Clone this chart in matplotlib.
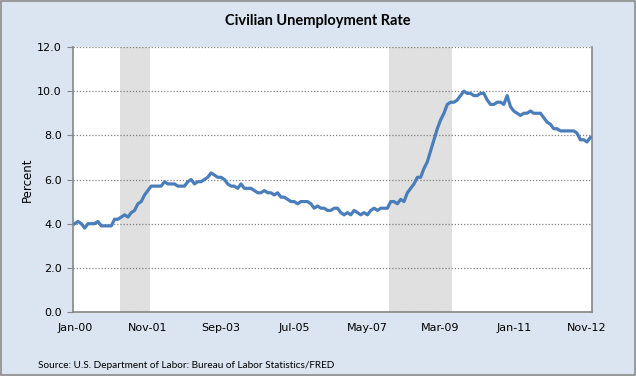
import numpy as np
import matplotlib.pyplot as plt
from matplotlib.patches import Rectangle

# Civilian unemployment rate, monthly, Jan 2000 - Dec 2012 (percent)
rate_2000 = [4.0, 4.1, 4.0, 3.8, 4.0, 4.0, 4.0, 4.1, 3.9, 3.9, 3.9, 3.9]
rate_2001 = [4.2, 4.2, 4.3, 4.4, 4.3, 4.5, 4.6, 4.9, 5.0, 5.3, 5.5, 5.7]
rate_2002 = [5.7, 5.7, 5.7, 5.9, 5.8, 5.8, 5.8, 5.7, 5.7, 5.7, 5.9, 6.0]
rate_2003 = [5.8, 5.9, 5.9, 6.0, 6.1, 6.3, 6.2, 6.1, 6.1, 6.0, 5.8, 5.7]
rate_2004 = [5.7, 5.6, 5.8, 5.6, 5.6, 5.6, 5.5, 5.4, 5.4, 5.5, 5.4, 5.4]
rate_2005 = [5.3, 5.4, 5.2, 5.2, 5.1, 5.0, 5.0, 4.9, 5.0, 5.0, 5.0, 4.9]
rate_2006 = [4.7, 4.8, 4.7, 4.7, 4.6, 4.6, 4.7, 4.7, 4.5, 4.4, 4.5, 4.4]
rate_2007 = [4.6, 4.5, 4.4, 4.5, 4.4, 4.6, 4.7, 4.6, 4.7, 4.7, 4.7, 5.0]
rate_2008 = [5.0, 4.9, 5.1, 5.0, 5.4, 5.6, 5.8, 6.1, 6.1, 6.5, 6.8, 7.3]
rate_2009 = [7.8, 8.3, 8.7, 9.0, 9.4, 9.5, 9.5, 9.6, 9.8, 10.0, 9.9, 9.9]
rate_2010 = [9.8, 9.8, 9.9, 9.9, 9.6, 9.4, 9.4, 9.5, 9.5, 9.4, 9.8, 9.3]
rate_2011 = [9.1, 9.0, 8.9, 9.0, 9.0, 9.1, 9.0, 9.0, 9.0, 8.8, 8.6, 8.5]
rate_2012 = [8.3, 8.3, 8.2, 8.2, 8.2, 8.2, 8.2, 8.1, 7.8, 7.8, 7.7, 7.9]

rate = np.array(rate_2000 + rate_2001 + rate_2002 + rate_2003 + rate_2004 +
                rate_2005 + rate_2006 + rate_2007 + rate_2008 + rate_2009 +
                rate_2010 + rate_2011 + rate_2012)

tick_labels = ["Jan-00", "Nov-01", "Sep-03", "Jul-05", "May-07", "Mar-09", "Jan-11", "Nov-12"]
tick_step = 22  # months between labels

# recessions as (first month index, last month index), from Jan 2000
recessions = [(14, 22), (95, 113)]

bg = "#DBE5F1"
fig = plt.figure(figsize=(6.36, 3.76), dpi=100, facecolor=bg)
fig.patches.append(Rectangle((0.0015, 0.0025), 0.997, 0.995, transform=fig.transFigure,
                             fill=False, edgecolor="#8C8C8C", linewidth=1.2))

ax = fig.add_axes([0.1148, 0.1702, 0.8160, 0.7048])
ax.set_facecolor("white")

x = np.arange(len(rate))
for a, b in recessions:
    ax.axvspan(a - 0.5, b + 0.5, color="#E0E0E0", lw=0, zorder=1)

ax.plot(x, rate, color="#4A7EBB", lw=2.3, zorder=3, solid_joinstyle="round")

ax.set_xlim(-0.5, len(rate) - 0.5)
ax.set_ylim(0, 12)
ax.set_yticks(np.arange(0, 12.1, 2))
ax.set_yticklabels(["%.1f" % v for v in np.arange(0, 12.1, 2)], fontsize=8)
ax.set_xticks(np.arange(len(tick_labels)) * tick_step)
ax.set_xticklabels(tick_labels, fontsize=8)
ax.tick_params(axis="x", length=0, pad=8)
ax.tick_params(axis="y", length=4, color="#868686", pad=4, direction="out")

ax.grid(axis="y", linestyle=(0, (1, 1.5)), color="#808080", linewidth=0.9, zorder=2)
ax.set_axisbelow(False)
for s in ["left", "bottom", "right"]:
    ax.spines[s].set_color("#868686")
    ax.spines[s].set_linewidth(1.2)
ax.spines["top"].set_visible(False)

ax.set_ylabel("Percent", fontsize=8.5, labelpad=2)
fig.text(0.5, 0.945, "Civilian Unemployment Rate", ha="center", va="center",
         fontsize=10.5, fontweight="bold", family="Lato")
fig.text(0.06, 0.027, "Source: U.S. Department of Labor: Bureau of Labor Statistics/FRED",
         ha="left", va="center", fontsize=7.2, family="Lato")

fig.savefig("out.png", dpi=100, facecolor=bg)
